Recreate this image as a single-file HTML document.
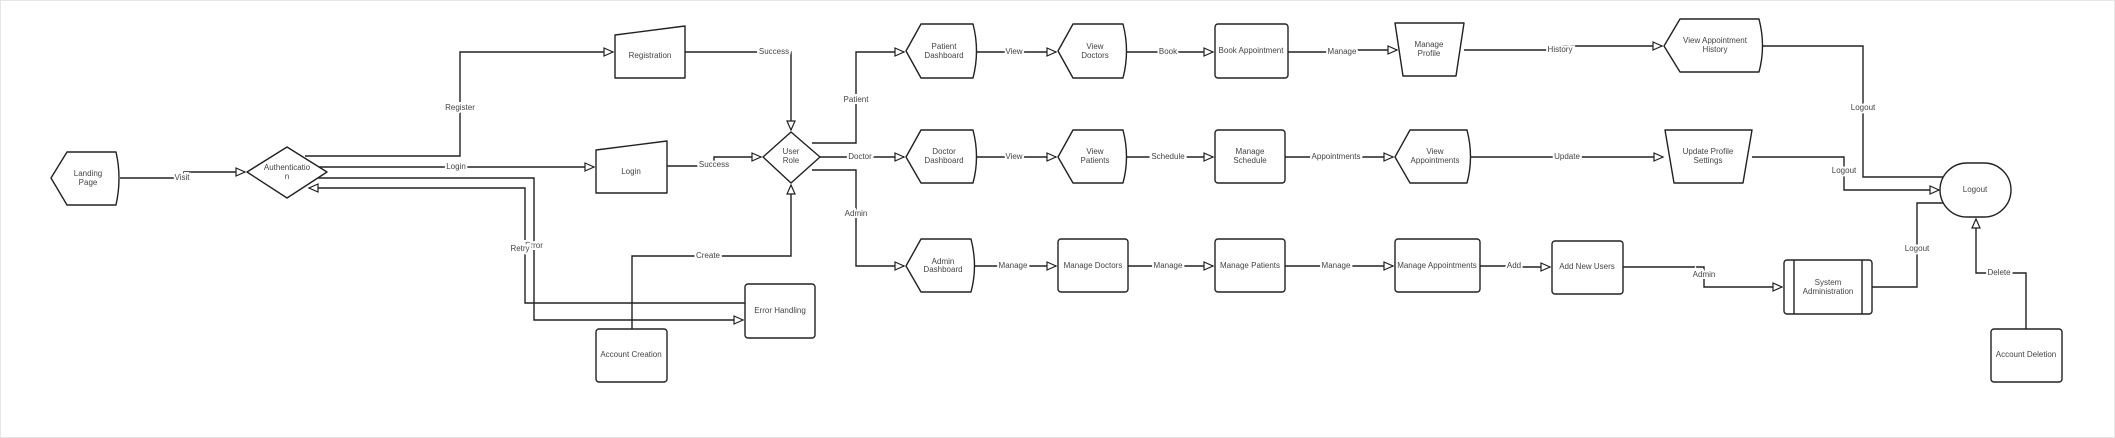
<!DOCTYPE html>
<html><head><meta charset="utf-8"><style>
html,body{margin:0;padding:0;background:#fff;}
svg{display:block;}
text{font-family:"Liberation Sans",sans-serif;font-size:8px;fill:#444;text-anchor:middle;dominant-baseline:middle;}
.l{paint-order:stroke;stroke:#fff;stroke-width:4px;}
.e{fill:none;stroke:#222;stroke-width:1.4;}
.n{fill:#fff;stroke:#222;stroke-width:1.4;stroke-linejoin:round;}
</style></head><body>
<svg width="2115" height="438" viewBox="0 0 2115 438" xmlns="http://www.w3.org/2000/svg">
<defs><marker id="a" markerWidth="12" markerHeight="12" refX="10" refY="5" orient="auto" markerUnits="userSpaceOnUse"><path d="M1,1 L10,5 L1,9 Z" fill="#fff" stroke="#222" stroke-width="1.2"/></marker></defs>
<rect x="0.5" y="0.5" width="2114" height="437" fill="none" stroke="#e6e6e6"/>

<!-- edges -->
<g class="e">
<path d="M120,178 H184 V172 H245" marker-end="url(#a)"/>
<path d="M305,156 H460 V52 H613" marker-end="url(#a)"/>
<path d="M685,52 H791 V130" marker-end="url(#a)"/>
<path d="M318,167 H594" marker-end="url(#a)"/>
<path d="M667,166 H714 V157 H761" marker-end="url(#a)"/>
<path d="M318,178 H534 V320 H743" marker-end="url(#a)"/>
<path d="M745,303 H525 V188 H309" marker-end="url(#a)"/>
<path d="M632,329 V256 H791 V185" marker-end="url(#a)"/>
<path d="M812,143 H856 V52 H904" marker-end="url(#a)"/>
<path d="M820,157 H904" marker-end="url(#a)"/>
<path d="M812,170 H856 V266 H904" marker-end="url(#a)"/>
<path d="M977,52 H1056" marker-end="url(#a)"/>
<path d="M1127,52 H1213" marker-end="url(#a)"/>
<path d="M1288,52 H1342 V50 H1397" marker-end="url(#a)"/>
<path d="M977,157 H1056" marker-end="url(#a)"/>
<path d="M1127,157 H1213" marker-end="url(#a)"/>
<path d="M1285,157 H1393" marker-end="url(#a)"/>
<path d="M975,266 H1056" marker-end="url(#a)"/>
<path d="M1128,266 H1213" marker-end="url(#a)"/>
<path d="M1285,266 H1393" marker-end="url(#a)"/>
<path d="M1480,266 H1514 V267 H1550" marker-end="url(#a)"/>
<path d="M1464,50 H1560 V46 H1662" marker-end="url(#a)"/>
<path d="M1763,46 H1863 V177 H1961" marker-end="url(#a)"/>
<path d="M1471,157 H1663" marker-end="url(#a)"/>
<path d="M1752,157 H1844 V190 H1939" marker-end="url(#a)"/>
<path d="M1623,267 H1704 V287 H1782" marker-end="url(#a)"/>
<path d="M1872,287 H1917 V203 H1961" marker-end="url(#a)"/>
<path d="M2026,329 V273 H1976 V219" marker-end="url(#a)"/>
</g>

<!-- nodes -->
<g class="n">
<path d="M67,152 H116 Q122,178 116,205 H67 L51,178 Z"/>
<path d="M287,147 L327,172 L287,198 L247,172 Z"/>
<path d="M615,35 L685,26 V78 H615 Z"/>
<path d="M596,150 L667,141 V193 H596 Z"/>
<path d="M791,132 L820,157 L791,183 L763,157 Z"/>
<rect x="745" y="284" width="70" height="54" rx="3"/>
<rect x="596" y="329" width="71" height="53" rx="3"/>
<path d="M921,24 H973 Q980,51 973,78 H921 L906,51 Z"/>
<path d="M1073,24 H1123 Q1130,51 1123,78 H1073 L1058,51 Z"/>
<rect x="1215" y="24" width="73" height="54" rx="3"/>
<path d="M1395,23 H1464 L1456,76 H1403 Z"/>
<path d="M921,130 H973 Q980,157 973,183 H921 L906,157 Z"/>
<path d="M1073,130 H1123 Q1130,157 1123,183 H1073 L1058,157 Z"/>
<rect x="1215" y="130" width="70" height="53" rx="3"/>
<path d="M1410,130 H1467 Q1474,157 1467,183 H1410 L1395,157 Z"/>
<path d="M921,239 H971 Q978,266 971,292 H921 L906,266 Z"/>
<rect x="1058" y="239" width="70" height="53" rx="3"/>
<rect x="1215" y="239" width="70" height="53" rx="3"/>
<rect x="1395" y="239" width="85" height="53" rx="3"/>
<path d="M1680,19 H1759 Q1766,46 1759,72 H1680 L1664,46 Z"/>
<path d="M1665,130 H1752 L1743,183 H1674 Z"/>
<rect x="1552" y="241" width="71" height="53" rx="3"/>
<rect x="1784" y="260" width="88" height="54" rx="3"/>
<line x1="1794" y1="260" x2="1794" y2="314"/>
<line x1="1862" y1="260" x2="1862" y2="314"/>
<rect x="1940" y="163" width="71" height="54" rx="27"/>
<rect x="1991" y="329" width="71" height="53" rx="3"/>
</g>

<!-- node labels -->
<text x="88" y="174">Landing</text><text x="88" y="183">Page</text>
<text x="287" y="168">Authenticatio</text><text x="287" y="177">n</text>
<text x="650" y="56">Registration</text>
<text x="631" y="172">Login</text>
<text x="791" y="152">User</text><text x="791" y="161">Role</text>
<text x="780" y="311">Error Handling</text>
<text x="631" y="355">Account Creation</text>
<text x="944" y="47">Patient</text><text x="944" y="56">Dashboard</text>
<text x="1095" y="47">View</text><text x="1095" y="56">Doctors</text>
<text x="1251" y="51">Book Appointment</text>
<text x="1429" y="45">Manage</text><text x="1429" y="54">Profile</text>
<text x="944" y="152">Doctor</text><text x="944" y="161">Dashboard</text>
<text x="1095" y="152">View</text><text x="1095" y="161">Patients</text>
<text x="1250" y="152">Manage</text><text x="1250" y="161">Schedule</text>
<text x="1435" y="152">View</text><text x="1435" y="161">Appointments</text>
<text x="943" y="262">Admin</text><text x="943" y="270">Dashboard</text>
<text x="1093" y="266">Manage Doctors</text>
<text x="1250" y="266">Manage Patients</text>
<text x="1437" y="266">Manage Appointments</text>
<text x="1715" y="41">View Appointment</text><text x="1715" y="50">History</text>
<text x="1708" y="152">Update Profile</text><text x="1708" y="161">Settings</text>
<text x="1587" y="267">Add New Users</text>
<text x="1828" y="283">System</text><text x="1828" y="292">Administration</text>
<text x="1975" y="190">Logout</text>
<text x="2026" y="355">Account Deletion</text>

<!-- edge labels -->
<text class="l" x="182" y="178">Visit</text>
<text class="l" x="460" y="108">Register</text>
<text class="l" x="774" y="52">Success</text>
<text class="l" x="456" y="167">Login</text>
<text class="l" x="714" y="165">Success</text>
<text class="l" x="534" y="246">Error</text>
<text class="l" x="520" y="249">Retry</text>
<text class="l" x="708" y="256">Create</text>
<text class="l" x="856" y="100">Patient</text>
<text class="l" x="860" y="157">Doctor</text>
<text class="l" x="856" y="214">Admin</text>
<text class="l" x="1014" y="52">View</text>
<text class="l" x="1168" y="52">Book</text>
<text class="l" x="1342" y="52">Manage</text>
<text class="l" x="1014" y="157">View</text>
<text class="l" x="1168" y="157">Schedule</text>
<text class="l" x="1336" y="157">Appointments</text>
<text class="l" x="1013" y="266">Manage</text>
<text class="l" x="1168" y="266">Manage</text>
<text class="l" x="1336" y="266">Manage</text>
<text class="l" x="1514" y="266">Add</text>
<text class="l" x="1560" y="50">History</text>
<text class="l" x="1567" y="157">Update</text>
<text class="l" x="1863" y="108">Logout</text>
<text class="l" x="1844" y="171">Logout</text>
<text class="l" x="1704" y="275">Admin</text>
<text class="l" x="1917" y="249">Logout</text>
<text class="l" x="1999" y="273">Delete</text>
</svg>
</body></html>
